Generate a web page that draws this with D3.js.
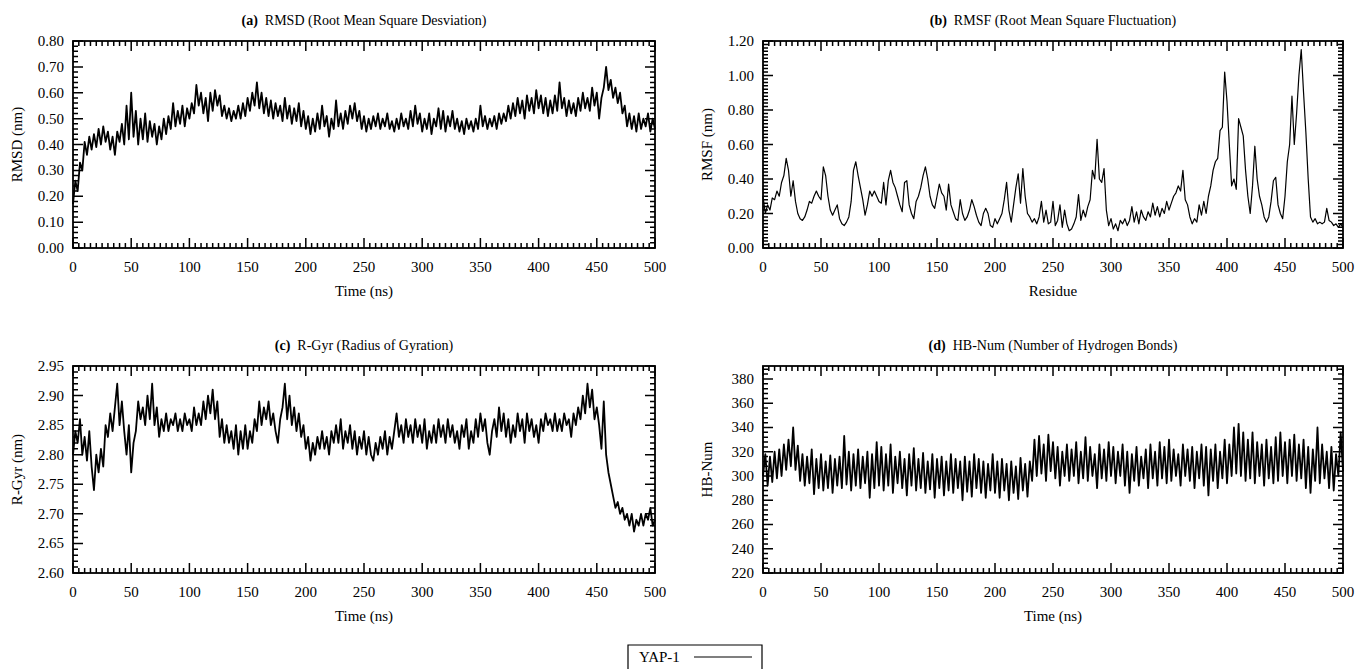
<!DOCTYPE html>
<html><head><meta charset="utf-8">
<script src="https://cdn.jsdelivr.net/npm/d3@7"></script>
<style>
body{margin:0;background:#fff}
svg, svg text{font-family:"Liberation Serif","DejaVu Serif","Times New Roman",serif}
</style>
</head><body>
<svg id="chart" width="1356" height="669" font-family="Liberation Serif, DejaVu Serif, serif"></svg>
<script>
// ---- data (sampled every 2 ns / every 2 residues) ----
const sampleStep = 2;
const rmsdValues = [
0.17,0.26,0.22,0.33,0.30,0.41,0.36,0.43,0.38,0.44,
0.39,0.46,0.40,0.47,0.41,0.45,0.38,0.43,0.36,0.45,
0.41,0.48,0.40,0.55,0.42,0.60,0.43,0.53,0.40,0.50,
0.42,0.52,0.41,0.49,0.43,0.48,0.40,0.47,0.42,0.50,
0.44,0.51,0.46,0.56,0.47,0.53,0.48,0.55,0.47,0.54,
0.50,0.56,0.52,0.63,0.55,0.60,0.52,0.58,0.49,0.60,
0.53,0.61,0.55,0.59,0.51,0.55,0.50,0.54,0.49,0.53,
0.50,0.55,0.50,0.56,0.51,0.58,0.53,0.60,0.55,0.64,
0.54,0.60,0.52,0.58,0.51,0.57,0.50,0.56,0.51,0.55,
0.49,0.58,0.50,0.55,0.48,0.54,0.49,0.56,0.47,0.53,
0.46,0.51,0.44,0.50,0.45,0.52,0.46,0.55,0.47,0.51,
0.43,0.50,0.46,0.57,0.47,0.52,0.46,0.53,0.48,0.55,
0.50,0.56,0.49,0.53,0.46,0.51,0.45,0.50,0.46,0.51,
0.47,0.52,0.46,0.50,0.47,0.52,0.46,0.49,0.45,0.50,
0.46,0.52,0.47,0.50,0.46,0.53,0.47,0.55,0.48,0.52,
0.45,0.50,0.46,0.52,0.44,0.50,0.47,0.54,0.46,0.53,
0.45,0.51,0.47,0.53,0.46,0.50,0.45,0.49,0.44,0.50,
0.46,0.49,0.45,0.50,0.46,0.55,0.47,0.51,0.46,0.50,
0.47,0.51,0.46,0.52,0.48,0.52,0.49,0.55,0.50,0.56,
0.51,0.58,0.52,0.57,0.50,0.59,0.53,0.58,0.52,0.61,
0.54,0.59,0.52,0.58,0.51,0.57,0.52,0.59,0.53,0.64,
0.54,0.58,0.51,0.57,0.52,0.56,0.51,0.58,0.53,0.60,
0.54,0.58,0.53,0.62,0.55,0.60,0.50,0.58,0.62,0.70,
0.61,0.65,0.58,0.62,0.56,0.60,0.52,0.55,0.47,0.52,
0.46,0.51,0.45,0.52,0.46,0.50,0.47,0.52,0.45,0.50,
0.46];
const rmsfValues = [
0.30,0.20,0.25,0.22,0.29,0.28,0.33,0.30,0.38,0.42,
0.52,0.45,0.30,0.39,0.27,0.20,0.17,0.16,0.18,0.22,
0.27,0.26,0.30,0.33,0.30,0.28,0.47,0.42,0.30,0.22,
0.19,0.22,0.25,0.17,0.14,0.13,0.15,0.18,0.27,0.45,
0.50,0.42,0.35,0.28,0.19,0.25,0.33,0.30,0.33,0.30,
0.27,0.26,0.38,0.25,0.39,0.45,0.38,0.35,0.30,0.25,
0.21,0.38,0.39,0.25,0.20,0.17,0.27,0.30,0.35,0.42,
0.47,0.40,0.30,0.25,0.23,0.30,0.37,0.32,0.30,0.22,
0.37,0.25,0.21,0.17,0.16,0.28,0.20,0.16,0.18,0.22,
0.28,0.24,0.19,0.15,0.13,0.20,0.23,0.20,0.13,0.12,
0.17,0.14,0.17,0.20,0.28,0.38,0.22,0.15,0.25,0.35,
0.43,0.26,0.46,0.30,0.20,0.18,0.15,0.17,0.14,0.18,
0.27,0.15,0.22,0.14,0.15,0.27,0.13,0.16,0.25,0.12,
0.22,0.14,0.10,0.11,0.14,0.18,0.31,0.16,0.22,0.18,
0.24,0.28,0.45,0.40,0.63,0.40,0.38,0.46,0.22,0.13,
0.17,0.11,0.14,0.10,0.16,0.14,0.17,0.13,0.16,0.24,
0.15,0.21,0.14,0.22,0.18,0.16,0.21,0.18,0.26,0.19,
0.24,0.18,0.23,0.20,0.27,0.22,0.26,0.30,0.32,0.36,
0.33,0.45,0.28,0.25,0.18,0.14,0.17,0.15,0.25,0.19,
0.27,0.20,0.30,0.36,0.45,0.50,0.52,0.68,0.70,1.02,
0.85,0.60,0.36,0.40,0.34,0.75,0.70,0.65,0.45,0.30,
0.20,0.36,0.59,0.40,0.30,0.25,0.18,0.15,0.18,0.27,
0.39,0.41,0.25,0.20,0.17,0.30,0.50,0.60,0.88,0.60,
0.78,1.00,1.15,0.90,0.67,0.40,0.18,0.15,0.17,0.14,
0.15,0.14,0.15,0.23,0.16,0.15,0.13,0.14,0.12,0.14,
0.12];
const rgyrValues = [
2.80,2.84,2.82,2.86,2.80,2.83,2.79,2.84,2.78,2.74,
2.80,2.77,2.81,2.78,2.85,2.83,2.87,2.84,2.88,2.92,
2.85,2.89,2.84,2.80,2.85,2.77,2.82,2.84,2.89,2.86,
2.88,2.85,2.90,2.86,2.92,2.85,2.88,2.83,2.86,2.84,
2.87,2.84,2.86,2.85,2.87,2.84,2.86,2.84,2.87,2.85,
2.86,2.84,2.88,2.85,2.87,2.85,2.89,2.86,2.90,2.87,
2.91,2.86,2.89,2.83,2.86,2.82,2.85,2.82,2.84,2.81,
2.85,2.80,2.84,2.81,2.85,2.81,2.84,2.82,2.86,2.84,
2.89,2.85,2.88,2.86,2.89,2.85,2.87,2.84,2.82,2.86,
2.88,2.92,2.86,2.90,2.85,2.88,2.84,2.87,2.83,2.85,
2.81,2.83,2.79,2.82,2.80,2.83,2.81,2.84,2.81,2.83,
2.80,2.84,2.82,2.85,2.82,2.86,2.81,2.84,2.82,2.85,
2.81,2.84,2.80,2.83,2.81,2.84,2.80,2.83,2.80,2.79,
2.82,2.80,2.83,2.81,2.84,2.80,2.83,2.81,2.84,2.87,
2.83,2.85,2.82,2.86,2.83,2.85,2.82,2.86,2.83,2.85,
2.82,2.86,2.81,2.84,2.82,2.85,2.82,2.86,2.83,2.85,
2.82,2.86,2.83,2.85,2.82,2.84,2.81,2.85,2.83,2.86,
2.81,2.84,2.82,2.86,2.83,2.87,2.84,2.86,2.82,2.80,
2.84,2.86,2.83,2.88,2.84,2.87,2.83,2.86,2.82,2.85,
2.83,2.87,2.84,2.86,2.82,2.87,2.84,2.86,2.83,2.85,
2.82,2.86,2.84,2.87,2.85,2.86,2.84,2.87,2.84,2.86,
2.84,2.87,2.85,2.86,2.83,2.87,2.85,2.88,2.86,2.90,
2.87,2.92,2.88,2.91,2.86,2.88,2.85,2.81,2.89,2.80,
2.77,2.75,2.73,2.71,2.72,2.70,2.71,2.69,2.70,2.68,
2.70,2.67,2.69,2.68,2.70,2.68,2.70,2.69,2.71,2.68,
2.69];
const hbValues = [
300,318,292,316,295,320,298,322,300,326,
305,330,308,340,305,325,296,318,292,316,
294,322,285,314,290,318,288,312,290,317,
286,314,292,316,290,333,293,320,288,318,
292,322,290,316,294,320,282,318,290,328,
292,324,288,318,292,326,286,316,294,320,
290,314,284,318,292,323,288,314,290,319,
286,312,289,318,282,314,290,316,284,312,
288,318,286,314,290,312,280,316,287,312,
283,318,290,314,286,312,282,310,288,318,
286,312,282,314,288,310,280,312,286,308,
281,315,288,310,283,312,296,330,300,333,
302,326,296,334,304,328,298,324,292,320,
300,326,296,322,300,328,294,320,298,332,
296,324,300,318,290,326,298,322,296,328,
300,324,294,320,300,326,292,320,286,318,
296,324,292,316,298,322,290,326,298,320,
292,328,298,324,294,330,296,322,300,318,
292,326,300,322,296,324,290,320,298,326,
292,324,284,322,296,326,290,320,298,330,
294,326,300,340,302,343,300,336,296,330,
298,336,294,328,300,326,292,330,298,324,
294,332,296,336,300,328,294,330,300,334,
296,326,298,330,290,324,286,322,296,340,
294,326,298,320,290,324,288,318,300,336,
304];

const xTickValues = [0,50,100,150,200,250,300,350,400,450,500];
const rmsdTicks = [0,0.1,0.2,0.3,0.4,0.5,0.6,0.7,0.8];
const rmsfTicks = [0,0.2,0.4,0.6,0.8,1.0,1.2];
const rgyrTicks = [2.60,2.65,2.70,2.75,2.80,2.85,2.90,2.95];
const hbTicks = [220,240,260,280,300,320,340,360,380];
const legendLabel = "YAP-1";

const FONT = "Liberation Serif, DejaVu Serif, serif";

// ---- layout ----
const svg = d3.select("#chart");
const panels = [
  {letter:"(a)", title:"RMSD (Root Mean Square Desviation)", xLabel:"Time (ns)", yLabel:"RMSD (nm)",
   values:rmsdValues, ticks:rmsdTicks, yDomain:[0,0.8], minor:0.02, fmt:d3.format(".2f"), lw:1.8,
   left:73, right:655, top:41, bottom:248},
  {letter:"(b)", title:"RMSF (Root Mean Square Fluctuation)", xLabel:"Residue", yLabel:"RMSF (nm)",
   values:rmsfValues, ticks:rmsfTicks, yDomain:[0,1.2], minor:0.02, fmt:d3.format(".2f"), lw:1.2,
   left:763, right:1343, top:41, bottom:248},
  {letter:"(c)", title:"R-Gyr (Radius of Gyration)", xLabel:"Time (ns)", yLabel:"R-Gyr (nm)",
   values:rgyrValues, ticks:rgyrTicks, yDomain:[2.6,2.95], minor:0.01, fmt:d3.format(".2f"), lw:1.8,
   left:73, right:655, top:366, bottom:573},
  {letter:"(d)", title:"HB-Num (Number of Hydrogen Bonds)", xLabel:"Time (ns)", yLabel:"HB-Num",
   values:hbValues, ticks:hbTicks, yDomain:[220,390.7], minor:4, fmt:d3.format("d"), lw:1.8,
   left:763, right:1343, top:366, bottom:573}
];

const MAJ = 10, MIN = 5;

panels.forEach(p => {
  const g = svg.append("g");
  const x = d3.scaleLinear().domain([0,500]).range([p.left,p.right]);
  const y = d3.scaleLinear().domain(p.yDomain).range([p.bottom,p.top]);

  // data line
  const line = d3.line().x((d,i)=>x(i*sampleStep)).y(d=>y(d));
  g.append("path").datum(p.values).attr("d",line)
    .attr("fill","none").attr("stroke","#000").attr("stroke-width",p.lw).attr("stroke-linejoin","round");

  // ticks (inward, mirrored on all sides) built as one path
  const xMinor = d3.range(0,500.001,5).filter(v=>v%50!==0);
  const yMinor = d3.range(p.yDomain[0], p.yDomain[1]+1e-9, p.minor)
    .filter(v => !p.ticks.some(t=>Math.abs(t-v)<p.minor/10));
  const tp = d3.path();
  xTickValues.forEach(v=>{
    tp.moveTo(x(v), p.bottom); tp.lineTo(x(v), p.bottom-MAJ);
    tp.moveTo(x(v), p.top); tp.lineTo(x(v), p.top+MAJ);
  });
  xMinor.forEach(v=>{
    tp.moveTo(x(v), p.bottom); tp.lineTo(x(v), p.bottom-MIN);
    tp.moveTo(x(v), p.top); tp.lineTo(x(v), p.top+MIN);
  });
  p.ticks.forEach(v=>{
    tp.moveTo(p.left, y(v)); tp.lineTo(p.left+MAJ, y(v));
    tp.moveTo(p.right, y(v)); tp.lineTo(p.right-MAJ, y(v));
  });
  yMinor.forEach(v=>{
    tp.moveTo(p.left, y(v)); tp.lineTo(p.left+MIN, y(v));
    tp.moveTo(p.right, y(v)); tp.lineTo(p.right-MIN, y(v));
  });
  g.append("path").attr("d", tp.toString())
    .attr("fill","none").attr("stroke","#000").attr("stroke-width",1.5);

  // frame
  g.append("rect").attr("x",p.left).attr("y",p.top)
    .attr("width",p.right-p.left).attr("height",p.bottom-p.top)
    .attr("fill","none").attr("stroke","#000").attr("stroke-width",1.8);

  // tick labels
  g.append("g").selectAll("text").data(xTickValues).join("text")
    .attr("x",d=>x(d)).attr("y",p.bottom+24).attr("text-anchor","middle")
    .attr("font-family",FONT).attr("font-size",15).text(d=>d);
  g.append("g").selectAll("text").data(p.ticks).join("text")
    .attr("x",p.left-9).attr("y",d=>y(d)+5).attr("text-anchor","end")
    .attr("font-family",FONT).attr("font-size",15).text(d=>p.fmt(d));

  // axis titles
  g.append("text").attr("x",(p.left+p.right)/2).attr("y",p.bottom+48)
    .attr("text-anchor","middle").attr("font-family",FONT).attr("font-size",15).text(p.xLabel);
  g.append("text").attr("transform",`translate(${p.left-51},${(p.top+p.bottom)/2}) rotate(-90)`)
    .attr("text-anchor","middle").attr("font-family",FONT).attr("font-size",15).text(p.yLabel);

  // panel title
  const t = g.append("text").attr("x",(p.left+p.right)/2).attr("y",p.top-16)
    .attr("text-anchor","middle").attr("font-family",FONT).attr("font-size",14);
  t.append("tspan").attr("font-weight","bold").text(p.letter);
  t.append("tspan").text("\u00a0 " + p.title);
});

// legend
const lg = svg.append("g");
lg.append("path").attr("d","M628,669 V645 H762 V669")
  .attr("fill","none").attr("stroke","#000").attr("stroke-width",1.2);
lg.append("text").attr("x",639).attr("y",662).attr("font-family",FONT).attr("font-size",15).text(legendLabel);
lg.append("line").attr("x1",694).attr("x2",752).attr("y1",657).attr("y2",657)
  .attr("stroke","#000").attr("stroke-width",1.2);
</script>
</body></html>
